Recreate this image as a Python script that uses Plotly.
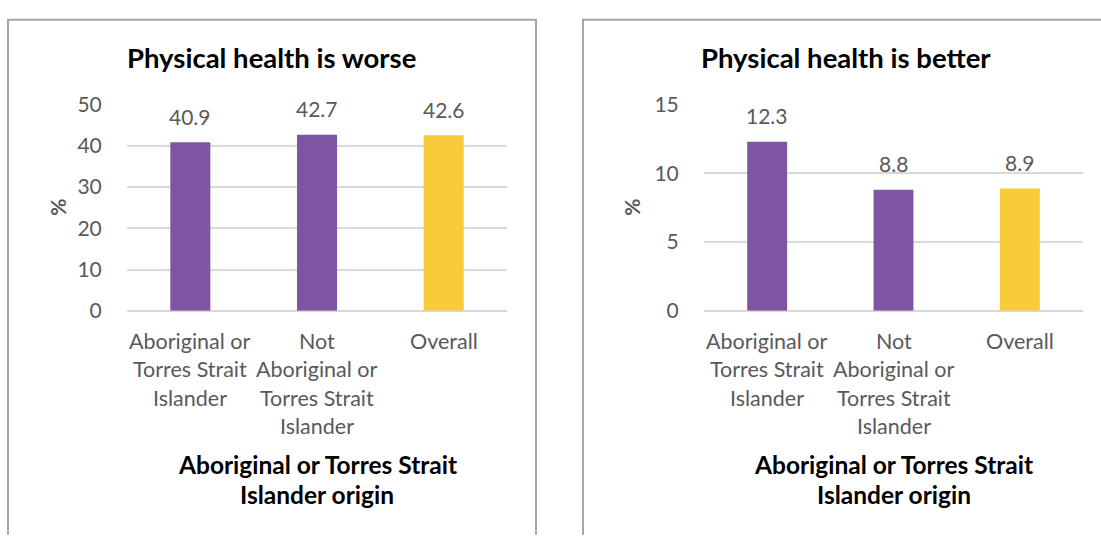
import plotly.graph_objects as go

W, H = 1101, 546

categories = ["Aboriginal or Torres Strait Islander",
              "Not Aboriginal or Torres Strait Islander",
              "Overall"]
category_lines = [["Aboriginal or", "Torres Strait", "Islander"],
                  ["Not", "Aboriginal or", "Torres Strait", "Islander"],
                  ["Overall"]]
worse_values = [40.9, 42.7, 42.6]
better_values = [12.3, 8.8, 8.9]
bar_colors = ["#7E55A3", "#7E55A3", "#F8CB3A"]
panel_titles = ["Physical health is worse", "Physical health is better"]
x_title_lines = ["Aboriginal or Torres Strait", "Islander origin"]
y_title = "%"
worse_ticks = [0, 10, 20, 30, 40, 50]
better_ticks = [0, 5, 10, 15]

FONT = "Lato"
GREY = "#595959"
GRID = "#D9D9D9"

def px(x):
    return x / W

def py(y):
    return 1 - y / H

fig = go.Figure()

panels = [
    dict(vals=worse_values, ticks=worse_ticks, xa="x", ya="y",
         dom=[px(127), px(507)], title_x=px(271), ytitle_x=px(58)),
    dict(vals=better_values, ticks=better_ticks, xa="x2", ya="y2",
         dom=[px(704), px(1083)], title_x=px(846), ytitle_x=px(632)),
]

annotations = []
for i, p in enumerate(panels):
    fig.add_trace(go.Bar(
        x=categories, y=p["vals"], marker=dict(color=bar_colors, line=dict(width=0)),
        width=0.316, xaxis=p["xa"], yaxis=p["ya"], showlegend=False,
        hoverinfo="skip"))
    # data labels
    for c, v in zip(categories, p["vals"]):
        annotations.append(dict(
            x=c, y=v, xref=p["xa"], yref=p["ya"], text=f"{v:.1f}",
            showarrow=False, xanchor="center", yanchor="middle", yshift=26,
            font=dict(family=FONT, size=21, color=GREY)))
    # category labels (wrapped)
    for c, lines in zip(categories, category_lines):
        for k, line in enumerate(lines):
            annotations.append(dict(
                x=c, y=py(343 + 29.5 * k), xref=p["xa"], yref="paper",
                text=line, showarrow=False, xanchor="center", yanchor="middle",
                font=dict(family=FONT, size=21.5, color=GREY)))
    # x axis title
    mid = (p["dom"][0] + p["dom"][1]) / 2
    for k, line in enumerate(x_title_lines):
        annotations.append(dict(
            x=mid, y=py(472 + 32 * k), xref="paper", yref="paper",
            text=f"<b>{line}</b>", showarrow=False, xanchor="center",
            yanchor="middle",
            font=dict(family=FONT, size=24.5, color="black")))
    # panel title
    annotations.append(dict(
        x=p["title_x"], y=py(46), xref="paper", yref="paper",
        text=f"<b>{panel_titles[i]}</b>", showarrow=False, xanchor="center",
        yanchor="middle",
        font=dict(family=FONT, size=27.5, color="black")))
    # y title
    annotations.append(dict(
        x=p["ytitle_x"], y=py(203), xref="paper", yref="paper",
        text=f"<b>{y_title}</b>", showarrow=False, textangle=-90,
        xanchor="center", yanchor="middle",
        font=dict(family=FONT, size=21, color=GREY)))

ydom = [py(311), py(95)]
common_x = dict(type="category", range=[-0.5, 2.5], showticklabels=False,
                showgrid=False, zeroline=False, showline=False, fixedrange=True)

def yaxis(ticks, anchor):
    return dict(range=[0, ticks[-1]], tickvals=ticks, domain=ydom,
                showgrid=True, gridcolor=GRID, gridwidth=1.5,
                zeroline=True, zerolinecolor=GRID, zerolinewidth=1.5,
                showline=False, ticks="outside", ticklen=20,
                tickcolor="rgba(0,0,0,0)",
                tickfont=dict(family=FONT, size=21, color=GREY),
                anchor=anchor, fixedrange=True)

fig.update_layout(
    width=W, height=H,
    margin=dict(l=0, r=0, t=0, b=0),
    paper_bgcolor="white", plot_bgcolor="white",
    bargap=0.684,
    xaxis=dict(domain=panels[0]["dom"], anchor="y", **common_x),
    xaxis2=dict(domain=panels[1]["dom"], anchor="y2", **common_x),
    yaxis=yaxis(worse_ticks, "x"),
    yaxis2=yaxis(better_ticks, "x2"),
    annotations=annotations,
    shapes=[
        dict(type="path", xref="paper", yref="paper",
             path=f"M {px(8)},0 L {px(8)},{py(6)} L {px(536)},{py(6)} L {px(536)},0",
             line=dict(color="#A6A6A6", width=2)),
        dict(type="path", xref="paper", yref="paper",
             path=f"M 1,{py(6)} L {px(583)},{py(6)} L {px(583)},0",
             line=dict(color="#A6A6A6", width=2)),
    ],
)

fig.write_html("out.html")
